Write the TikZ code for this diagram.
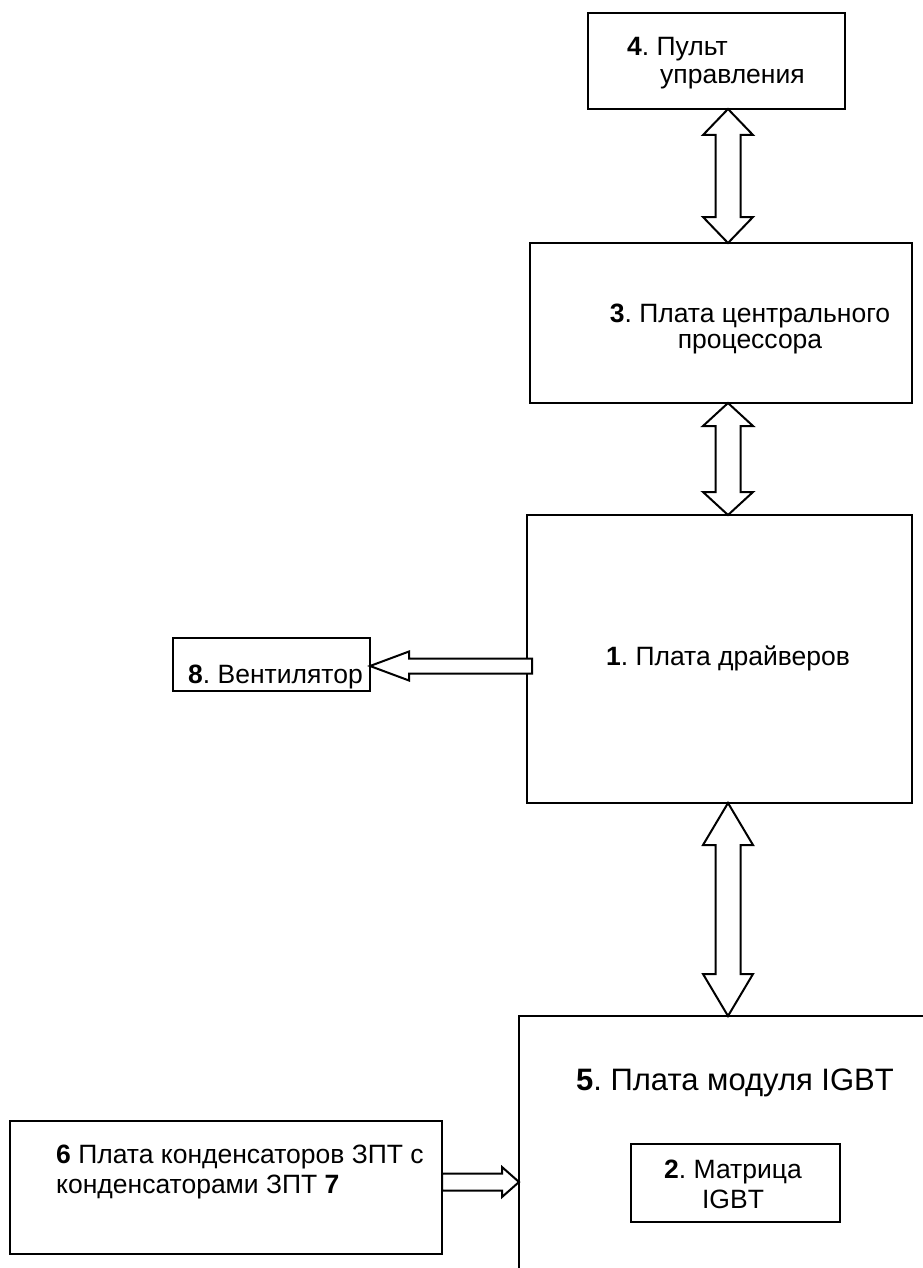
\documentclass[tikz,border=0pt]{standalone}
\usepackage{fontspec}
\setmainfont{Liberation Sans}
\usetikzlibrary{calc,positioning}

\newcommand\updown[3]{%
  \draw[blockarrow] (#1) -- ($(#1)+(25,#3)$) -- ($(#1)+(12.5,#3)$) -- ($(#2)+(12.5,-#3)$)
    -- ($(#2)+(25,-#3)$) -- (#2) -- ($(#2)+(-25,-#3)$) -- ($(#2)+(-12.5,-#3)$)
    -- ($(#1)+(-12.5,#3)$) -- ($(#1)+(-25,#3)$) -- cycle;}
\newcommand\sidearrow[5]{%
  \draw[blockarrow] ($(#1)+(0,-#4)$) -- ($(#2)+(#3,-#4)$) -- ($(#2)+(#3,-#5)$) -- (#2)
    -- ($(#2)+(#3,#5)$) -- ($(#2)+(#3,#4)$) -- ($(#1)+(0,#4)$) -- cycle;}

\begin{document}
\begin{tikzpicture}[x=1pt,y=-1pt,
  board/.style={draw,line width=2pt,rectangle,outer sep=0pt,inner sep=0pt},
  txt/.style={inner sep=0pt,font=\fontsize{26.5}{30}\selectfont\frenchspacing},
  blockarrow/.style={draw,line width=2pt,fill=white,line join=miter}]

        \useasboundingbox (0,0) rectangle (922,1268);

        \node[board,minimum width=257pt,minimum height=96pt] (b4) at (716.5,61) {};
        \node[board,minimum width=382pt,minimum height=160pt] (b3) at (721,323) {};
        \node[board,minimum width=385pt,minimum height=288pt] (b1) at (719.5,659) {};
        \node[board,minimum width=197pt,minimum height=53pt] (b8) at (271.5,664.5) {};
        \node[board,minimum width=460pt,minimum height=300pt,anchor=north west] (b5) at (519,1016) {};
        \node[board,minimum width=209pt,minimum height=78pt] (b2) at (735.5,1183) {};
        \node[board,minimum width=432pt,minimum height=133pt] (b6) at (226,1187.5) {};

        \node[txt,anchor=base west,align=left] (t4) at (627,84) {\textbf{4}. Пульт\\[-2pt]\hspace*{33pt}управления};
        \node[txt,anchor=base,align=center] (t3) at (750,348) {\textbf{3}. Плата центрального\\[-4pt]процессора};
        \node[txt,anchor=base] (t1) at (728,665) {\textbf{1}. Плата драйверов};
        \node[txt,anchor=base west] (t8) at (188,683) {\textbf{8}. Вентилятор};
        \node[txt,anchor=base,font=\fontsize{31}{36}\selectfont\frenchspacing] (t5) at (735,1090) {\textbf{5}. Плата модуля IGBT};
        \node[txt,anchor=base,align=center] (t2) at (733,1208) {\textbf{2}. Матрица\\IGBT};
        \node[txt,anchor=base west,align=left] (t6) at (56,1193) {\textbf{6} Плата конденсаторов ЗПТ с\\конденсаторами ЗПТ \textbf{7}};

        \coordinate (col) at (728,0);
        \coordinate (fanrow) at (0,666);
        \coordinate (caprow) at (0,1182);
        \coordinate (fantail) at ($(b1.west |- fanrow)+(5,0)$);

        \updown{b4.south -| col}{b3.north -| col}{26}
        \updown{b3.south -| col}{b1.north -| col}{23}
        \updown{b1.south -| col}{b5.north -| col}{42}
        \sidearrow{fantail}{b8.east |- fanrow}{39}{7.5}{14.5}
        \sidearrow{b6.east |- caprow}{b5.west |- caprow}{-17}{8.5}{15}
      \end{tikzpicture}
\end{document}
